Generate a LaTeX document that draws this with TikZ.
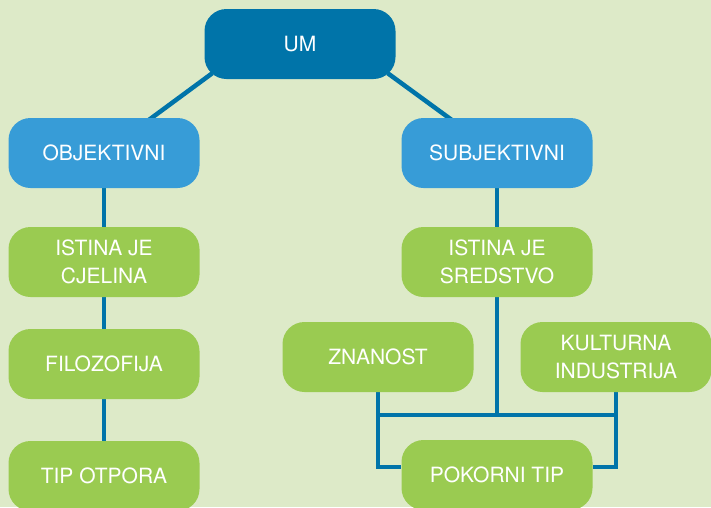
\documentclass[tikz,border=0pt]{standalone}
\usepackage{fontspec}
\setmainfont{TeX Gyre Heros}
\usetikzlibrary{backgrounds}
\definecolor{Paper}{HTML}{DDEAC8}
\definecolor{DeepBlue}{HTML}{0074A9}
\definecolor{SkyBlue}{HTML}{379CD7}
\definecolor{Leaf}{HTML}{9ACB51}

\tikzset{
  box/.style={rounded corners=22pt, minimum width=191pt, minimum height=70pt,
    inner sep=0pt, text=white, align=center,
    font=\fontsize{21}{28}\selectfont},
  root/.style={box, fill=DeepBlue},
  branch/.style={box, fill=SkyBlue},
  leaf/.style={box, fill=Leaf},
  link/.style={DeepBlue, line width=4.5pt},
}

\begin{document}
\begin{tikzpicture}[x=1pt,y=-1pt]
\useasboundingbox (0,0) rectangle (711,507);
% Boxes.
\node[root] (um) at (300,44) {UM};
\node[branch] (obj) at (104,153) {OBJEKTIVNI};
\node[branch] (subj) at (497,153) {SUBJEKTIVNI};
\node[leaf] (cjel) at (104,262) {ISTINA JE\\CJELINA};
\node[leaf] (filo) at (104,364) {FILOZOFIJA};
\node[leaf] (otp) at (104,476) {TIP OTPORA};
\node[leaf] (sred) at (497,262) {ISTINA JE\\SREDSTVO};
\node[leaf] (zna) at (378,357) {ZNANOST};
\node[leaf] (kul) at (616,357) {KULTURNA\\INDUSTRIJA};
\node[leaf] (pok) at (497,475) {POKORNI TIP};

% Connectors, behind the boxes.
\begin{scope}[on background layer]
  \fill[Paper] (0,0) rectangle (711,507);
  \draw[link] (obj.center) -- ([xshift=8pt,yshift=6pt]um.south west);
  \draw[link] (subj.center) -- ([xshift=-8pt,yshift=6pt]um.south east);
  \draw[link] (obj) -- (cjel) -- (filo) -- (otp);
  \coordinate (jn) at (497,415);
  \draw[link] (subj.center) -- (jn);
  \draw[link] (zna.center) |- (jn) -| (kul.center);
  \draw[link] (zna.center) |- ([yshift=8pt]pok.west);
  \draw[link] (kul.center) |- ([yshift=8pt]pok.east);
\end{scope}
\end{tikzpicture}
\end{document}
